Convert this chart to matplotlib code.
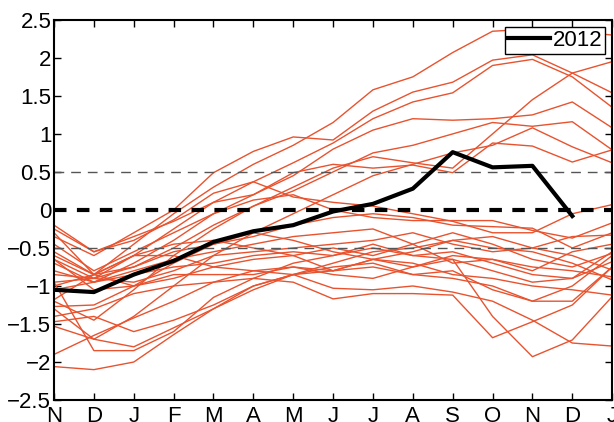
import numpy as np
import matplotlib
matplotlib.use("Agg")
from matplotlib import pyplot as plt

plt.rcParams["font.family"] = ["Liberation Sans", "DejaVu Sans"]

months = ["N", "D", "J", "F", "M", "A", "M", "J", "J", "A", "S", "O", "N", "D", "J"]

# 2012 anomaly (ends in December)
y2012 = [-1.05, -1.08, -0.85, -0.67, -0.42, -0.28, -0.20, -0.02, 0.08, 0.28, 0.76, 0.56, 0.58, -0.08]

# other years (red ensemble)
years = [
    [-0.55, -0.85, -0.45, -0.05, 0.30, 0.60, 0.85, 1.15, 1.58, 1.75, 2.07, 2.35, 2.38, 2.35, 2.30],
    [-0.35, -0.60, -0.30, 0.00, 0.49, 0.77, 0.96, 0.92, 1.30, 1.55, 1.68, 1.97, 2.04, 1.80, 1.54],
    [-0.65, -0.90, -0.60, -0.25, 0.10, 0.37, 0.62, 0.88, 1.20, 1.42, 1.54, 1.90, 1.98, 1.75, 1.35],
    [-1.20, -1.45, -1.05, -0.60, -0.25, 0.05, 0.30, 0.55, 0.70, 0.62, 0.55, 1.00, 1.45, 1.80, 1.95],
    [-0.80, -0.95, -0.70, -0.40, -0.05, 0.20, 0.45, 0.80, 1.05, 1.20, 1.18, 1.20, 1.25, 1.42, 1.08],
    [-0.95, -0.90, -0.75, -0.50, -0.20, 0.05, 0.25, 0.50, 0.75, 0.85, 1.00, 1.15, 1.10, 1.16, 0.79],
    [-1.30, -1.70, -1.40, -1.00, -0.60, -0.30, -0.05, 0.20, 0.45, 0.60, 0.75, 0.85, 1.08, 0.83, 0.62],
    [-0.25, -0.55, -0.35, -0.15, 0.10, 0.20, 0.49, 0.60, 0.55, 0.59, 0.49, 0.88, 0.84, 0.63, 0.79],
    [-0.20, -0.55, -0.40, -0.13, 0.22, 0.37, 0.17, 0.10, 0.05, -0.05, -0.15, -0.30, -0.30, -0.05, 0.07],
    [-0.45, -0.80, -0.55, -0.30, -0.05, 0.13, 0.20, 0.00, -0.10, -0.14, -0.14, -0.14, -0.27, -0.37, -0.17],
    [-0.60, -0.85, -0.75, -0.55, -0.45, -0.35, -0.20, -0.10, -0.05, -0.10, -0.20, -0.22, -0.24, -0.50, -0.30],
    [-0.70, -0.95, -0.80, -0.65, -0.55, -0.45, -0.35, -0.30, -0.25, -0.45, -0.30, -0.45, -0.65, -0.75, -0.57],
    [-0.85, -0.90, -0.95, -0.80, -0.60, -0.55, -0.50, -0.45, -0.40, -0.30, -0.45, -0.55, -0.50, -0.35, -0.33],
    [-1.05, -0.95, -0.85, -0.75, -0.70, -0.60, -0.55, -0.60, -0.50, -0.60, -0.55, -0.70, -0.85, -0.90, -0.68],
    [-1.18, -0.85, -0.60, -0.60, -0.75, -0.80, -0.85, -0.70, -0.55, -0.50, -0.40, -0.35, -0.50, -0.60, -0.79],
    [-1.27, -1.25, -1.00, -0.85, -0.85, -0.85, -0.75, -0.80, -0.65, -0.75, -0.60, -0.65, -0.75, -0.80, -0.88],
    [-1.47, -1.40, -1.60, -1.45, -1.25, -1.00, -0.85, -0.80, -0.65, -0.70, -0.85, -0.90, -1.00, -1.05, -1.12],
    [-1.53, -1.70, -1.80, -1.55, -1.30, -1.05, -0.85, -0.75, -0.70, -0.85, -0.90, -1.00, -1.20, -1.20, -0.75],
    [-1.90, -1.65, -1.42, -1.20, -0.95, -0.80, -0.75, -0.85, -0.90, -0.75, -0.65, -1.40, -1.93, -1.71, -1.14],
    [-2.06, -2.10, -2.00, -1.64, -1.30, -1.00, -0.85, -1.03, -1.05, -1.00, -1.08, -1.20, -1.45, -1.75, -1.79],
    [-0.95, -1.85, -1.85, -1.60, -1.15, -0.90, -0.70, -0.60, -0.45, -0.60, -0.65, -0.80, -0.95, -0.90, -0.55],
    [-0.30, -0.85, -1.00, -0.70, -0.45, -0.30, -0.40, -0.55, -0.65, -0.55, -0.40, -0.50, -0.55, -0.70, -0.92],
    [-0.65, -1.05, -1.00, -0.90, -0.75, -0.65, -0.60, -0.50, -0.60, -0.45, -0.70, -0.65, -0.80, -0.55, -0.45],
    [-1.00, -0.85, -0.60, -0.45, -0.40, -0.50, -0.60, -0.80, -0.75, -0.85, -0.80, -1.05, -1.20, -1.00, -0.60],
    [-1.40, -1.30, -1.10, -1.00, -0.95, -0.90, -0.95, -1.17, -1.10, -1.10, -1.12, -1.68, -1.47, -1.25, -0.75],
]

x = np.arange(len(months))

fig = plt.figure(figsize=(6.14, 4.22), dpi=100)
ax = fig.add_axes([0.088, 0.052, 0.909, 0.901])

for yr in years:
    ax.plot(x, yr, color="#e8532f", lw=1.0)

ax.axhline(0.5, color="#555555", ls=(0, (7, 5)), lw=1.0)
ax.axhline(-0.5, color="#555555", ls=(0, (7, 5)), lw=1.0)
ax.axhline(0, color="black", ls=(0, (3, 2.5)), lw=3.0)

ax.plot(np.arange(len(y2012)), y2012, color="black", lw=3.0, label="2012")

ax.set_xlim(0, len(months) - 1)
ax.set_ylim(-2.5, 2.5)
ax.set_xticks(x)
ax.set_xticklabels(months)
ax.set_yticks(np.arange(-2.5, 2.51, 0.5))
ax.set_yticklabels(["\u22122.5", "\u22122", "\u22121.5", "\u22121", "\u22120.5", "0", "0.5", "1", "1.5", "2", "2.5"])
ax.tick_params(direction="in", top=True, right=True, labelsize=16, length=5, width=1)
ax.tick_params(axis="x", pad=4)
ax.tick_params(axis="y", pad=2)
for s in ax.spines.values():
    s.set_linewidth(1.5)

leg = ax.legend(loc="upper right", fontsize=16, handlelength=1.9, handletextpad=0.1,
                borderpad=0.15, borderaxespad=0.3, fancybox=False, framealpha=1)
leg.get_frame().set_edgecolor("black")
leg.get_frame().set_linewidth(1.0)

plt.savefig("out.png")
